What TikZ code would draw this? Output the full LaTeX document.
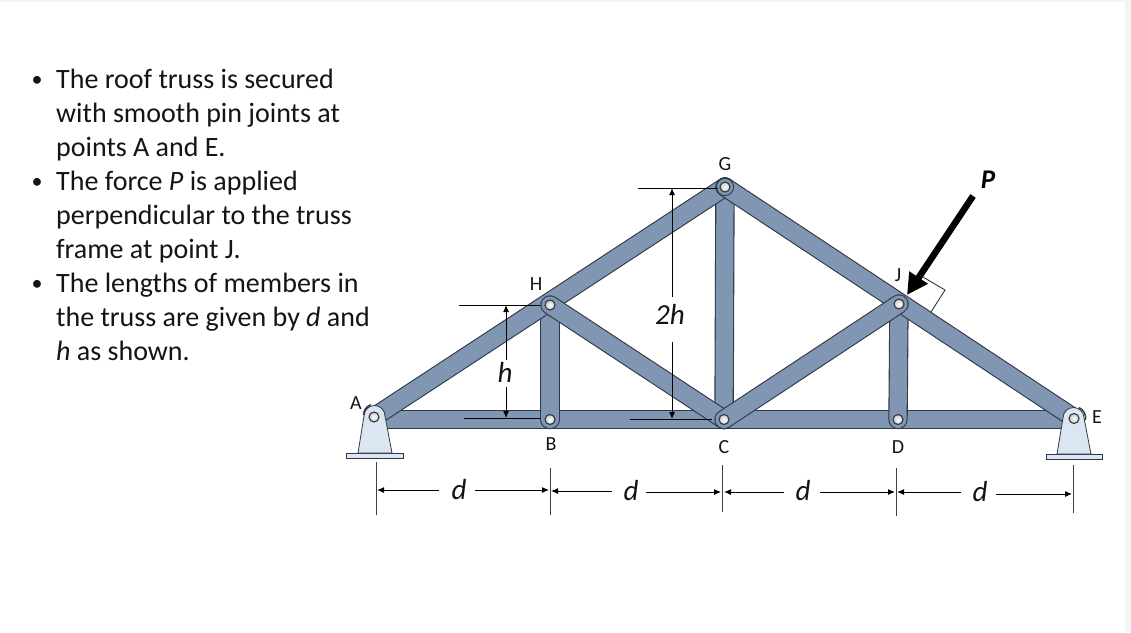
\documentclass[tikz,border=0pt]{standalone}
\usepackage{fontspec}
\setmainfont{Carlito}
\usetikzlibrary{arrows.meta}
\definecolor{barfill}{HTML}{8096B2}
\definecolor{bardark}{HTML}{2F3A46}
\definecolor{supfill}{HTML}{DCE6F2}
\definecolor{txt}{HTML}{141414}
\definecolor{edge}{HTML}{F3F3F3}
\tikzset{
 x=1pt,y=-1pt,
 barout/.style={line width=19.4pt,draw=bardark,line cap=round},
 barin/.style={line width=17.2pt,draw=barfill,line cap=round},
 pin/.style={circle,draw=bardark,line width=1.1pt,minimum size=10pt,inner sep=0pt,inner color=white,outer color=black!22},
 sup/.style={draw=bardark,line width=0.8pt,fill=supfill},
 supedge/.style={draw=bardark,line width=1.5pt},
 ext/.style={draw=black,line width=1pt},
 tick/.style={draw=black!75,line width=1pt},
 dimarr/.style={draw=black,line width=1pt,-{Latex[length=7pt,width=6pt]}},
 lab/.style={font=\fontsize{20}{22}\selectfont,text=txt,inner sep=0pt},
 dimlab/.style={font=\fontsize{29}{30}\selectfont\itshape,text=txt,inner sep=0pt},
 para/.style={font=\fontsize{28}{34}\selectfont,text=txt,align=left,anchor=north west,inner sep=0pt},
 bul/.style={font=\fontsize{22}{24}\selectfont,text=txt,inner sep=0pt},
}
\newcommand{\member}[2]{\draw[barout] (#1) -- (#2); \draw[barin] (#1) -- (#2);}
\begin{document}
\begin{tikzpicture}
\useasboundingbox (0,0) rectangle (1131,632);
\fill[edge] (0,0) rectangle (1131,632);
\fill[white] (0,2) rectangle (1125,632);
% joints
\coordinate (jA) at (374,417);
\coordinate (jB) at (550,419.5);
\coordinate (jC) at (724,419.5);
\coordinate (jD) at (898,419.5);
\coordinate (jE) at (1074,418);
\coordinate (jH) at (550,305);
\coordinate (jG) at (725,187);
\coordinate (jJ) at (899,304);
\coordinate (chL) at (380,419.5);
\coordinate (chR) at (1068,419.5);
% text
\node[bul] (b1) at (37,81) {•};
\node[bul] (b2) at (37,183) {•};
\node[bul] (b3) at (37,285) {•};
\node[para] (t1) at (56,69) {The roof truss is secured\\with smooth pin joints at\\points A and E.};
\node[para] (t2) at (56,171) {The force \textit{P} is applied\\perpendicular to the truss\\frame at point J.};
\node[para] (t3) at (56,273) {The lengths of members in\\the truss are given by \textit{d} and\\\textit{h} as shown.};
% members
\draw[line width=19.4pt,draw=bardark] (chL) -- (chR);
\draw[line width=17.2pt,draw=barfill] (chL) -- (chR);
\member{jH}{jB}
\member{jJ}{jD}
\member{jG}{jC}
\member{jA}{jG}
\member{jE}{jG}
\member{jC}{jH}
\member{jC}{jJ}
\draw[draw=bardark,line width=0.9pt] (jG) circle[radius=8.6];
% supports
\draw[sup] (346,453) rectangle (403,458);
\draw[sup] (358,453) -- (364,416) arc[start angle=180,end angle=360,radius=10.5] -- (392,453) -- cycle;
\draw[sup] (1046,454) rectangle (1102,459);
\draw[sup] (1057,454) -- (1063,418) arc[start angle=180,end angle=360,radius=10.5] -- (1091,454) -- cycle;
\draw[supedge] (363.6,415) arc[start angle=180,end angle=250,radius=11];
\draw[supedge] (1079,407.6) arc[start angle=295,end angle=370,radius=11.5];
% pins
\node[pin] (pA) at (jA) {};
\node[pin] (pB) at (jB) {};
\node[pin] (pC) at (jC) {};
\node[pin] (pD) at (jD) {};
\node[pin] (pE) at (1074,418.5) {};
\node[pin] (pH) at (jH) {};
\node[pin] (pG) at (jG) {};
\node[pin] (pJ) at (jJ) {};
% labels
\node[lab] (lA) at (356,403) {A};
\node[lab] (lH) at (536,284) {H};
\node[lab] (lB) at (551,444) {B};
\node[lab] (lG) at (725,164) {G};
\node[lab] (lC) at (724,447) {C};
\node[lab] (lJ) at (898,275) {J};
\node[lab] (lD) at (898,447) {D};
\node[lab] (lE) at (1097,417) {E};
% h dimension
\coordinate (h1a) at (459,305); \coordinate (h1b) at (540,305);
\coordinate (h2a) at (464,418); \coordinate (h2b) at (540,418);
\draw[ext] (h1a) -- (h1b);
\draw[ext] (h2a) -- (h2b);
\node[dimlab] (lh) at (505,372) {h};
\coordinate (h1) at (506,305); \coordinate (h2) at (506,418);
\coordinate (h1s) at (506,360); \coordinate (h2s) at (506,387);
\draw[dimarr] (h1s) -- (h1);
\draw[dimarr] (h2s) -- (h2);
% 2h dimension
\coordinate (g1a) at (638,188); \coordinate (g1b) at (718,188);
\coordinate (g2a) at (630,419); \coordinate (g2b) at (712,419);
\draw[ext] (g1a) -- (g1b);
\draw[ext] (g2a) -- (g2b);
\node[dimlab] (l2h) at (670,314) {2h};
\coordinate (g1) at (672,188); \coordinate (g2) at (672,419);
\coordinate (g1s) at (672,297); \coordinate (g2s) at (672,342);
\draw[dimarr] (g1s) -- (g1);
\draw[dimarr] (g2s) -- (g2);
% d dimension ticks
\coordinate (t1a) at (376,462); \coordinate (t1b) at (376,515);
\coordinate (t2a) at (550,468); \coordinate (t2b) at (550,515);
\coordinate (t3a) at (722.5,465); \coordinate (t3b) at (722.5,512);
\coordinate (t4a) at (896,468); \coordinate (t4b) at (896,516);
\coordinate (t5a) at (1073,465); \coordinate (t5b) at (1073,513);
\draw[tick] (t1a) -- (t1b);
\draw[tick] (t2a) -- (t2b);
\draw[tick] (t3a) -- (t3b);
\draw[tick] (t4a) -- (t4b);
\draw[tick] (t5a) -- (t5b);
\node[dimlab] (d1) at (459,490) {d};
\node[dimlab] (d2) at (631,491) {d};
\node[dimlab] (d3) at (803,491) {d};
\node[dimlab] (d4) at (980,492) {d};
\coordinate (e1a) at (439,490); \coordinate (e1b) at (377,490);
\coordinate (e2a) at (475,490); \coordinate (e2b) at (549,490);
\coordinate (e3a) at (612,491); \coordinate (e3b) at (551,491);
\coordinate (e4a) at (646,492); \coordinate (e4b) at (721,492);
\coordinate (e5a) at (784,492); \coordinate (e5b) at (724,492);
\coordinate (e6a) at (820,492); \coordinate (e6b) at (895,492);
\coordinate (e7a) at (961,492); \coordinate (e7b) at (897,492);
\coordinate (e8a) at (996,494); \coordinate (e8b) at (1072,494);
\draw[dimarr] (e1a) -- (e1b);
\draw[dimarr] (e2a) -- (e2b);
\draw[dimarr] (e3a) -- (e3b);
\draw[dimarr] (e4a) -- (e4b);
\draw[dimarr] (e5a) -- (e5b);
\draw[dimarr] (e6a) -- (e6b);
\draw[dimarr] (e7a) -- (e7b);
\draw[dimarr] (e8a) -- (e8b);
% force
\coordinate (f0) at (973,196);
\coordinate (f1) at (907,295);
\coordinate (sq1) at (923,277);
\coordinate (sq2) at (945,290);
\coordinate (sq3) at (931,312);
\draw[draw=bardark,line width=0.9pt] (sq1) -- (sq2) -- (sq3);
\draw[line width=6.5pt,-{Triangle[length=21pt,width=21pt]}] (f0) -- (f1);
\node[font=\fontsize{27}{28}\selectfont\bfseries\itshape,inner sep=0pt] (lP) at (988,180) {P};
\end{tikzpicture}
\end{document}
